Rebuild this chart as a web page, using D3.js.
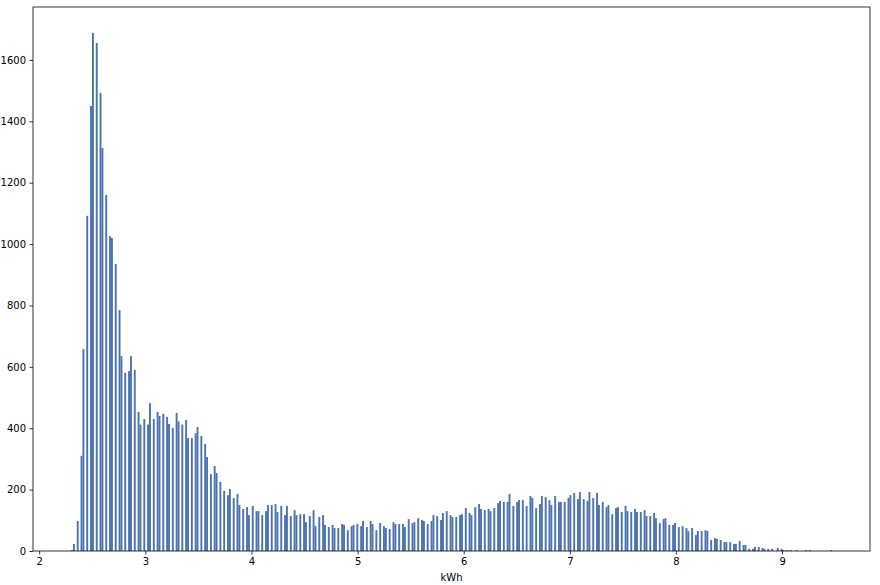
<!DOCTYPE html>
<html><head><meta charset="utf-8">
<script src="https://cdn.jsdelivr.net/npm/d3@7"></script>
<style>
body{margin:0;background:#fff}
svg{display:block}
text{font-family:"DejaVu Sans",sans-serif;font-size:10px;fill:#000}
</style>
</head><body>
<svg id="chart" width="880" height="585"></svg>
<script>
// Metered readings come in 0.03 kWh steps starting at 2.30 kWh
const firstReading = 2.30;
const readingStep = 0.03;
// Number of days at each reading
const counts = [
  3, 23, 98, 310, 658, 1092, 1450, 1688, 1655, 1492, 1313, 1160, 1026, 1020, 935, 785, 635, 580, 586, 635, 590,
  453, 412, 430, 412, 482, 430, 453, 440, 447, 437, 414, 401, 450, 422, 412, 427, 368, 368, 384, 404, 375, 349, 306,
  251, 277, 254, 225, 196, 182, 202, 173, 186, 150, 137, 143, 117, 147, 130, 130, 117, 130, 150, 150, 153, 127, 147,
  117, 147, 114, 133, 117, 120, 120, 94, 114, 133, 81, 111, 117, 85, 78, 85, 75, 75, 88, 85, 68, 81, 85, 88, 81, 98, 78, 98, 88, 68,
  91, 81, 75, 72, 94, 88, 88, 88, 78, 104, 91, 94, 107, 101, 98, 88, 98, 117, 114, 101,
  124, 130, 117, 111, 111, 117, 120, 140, 124, 117, 143, 153, 137, 133, 137, 130, 140, 156, 163, 160,
  160, 186, 147, 160, 166, 166, 147, 179, 173, 140, 153, 179, 176, 166,
  150, 179, 160, 160, 160, 173, 182, 189, 169, 192, 169, 163, 192, 173, 189, 150, 160, 143, 150, 120,
  140, 143, 127, 147, 130, 127, 137, 127, 127, 133, 114, 114, 124, 107, 91, 104, 107, 85, 85, 91,
  78, 81, 75, 65, 75, 52, 65, 65, 68, 65, 36, 42, 39,
  36, 29, 29, 29, 23, 23, 33, 20, 20, 7, 7, 13, 13, 10, 7, 7, 7,
  0, 10, 7, 3, 3, 3, 0, 3, 0, 0, 3, 3, 0, 0, 0, 0, 0, 0, 3
];
const binCount = 400;
const xTicks = [2, 3, 4, 5, 6, 7, 8, 9];
const yTicks = [0, 200, 400, 600, 800, 1000, 1200, 1400, 1600];
const xLabel = "kWh";
const barColor = "#4C72B0";

const readings = counts.map((c, i) => ({ kwh: firstReading + i * readingStep, step: i, count: c }));
const lo = readings[0].kwh;
const hi = readings[readings.length - 1].kwh;
const binW = (hi - lo) / binCount;
const bins = d3.range(binCount).map(i => ({ x0: lo + i * binW, x1: lo + (i + 1) * binW, n: 0 }));
readings.forEach(r => {
  let b = Math.floor((r.step * readingStep) / binW + 1e-9);
  if (b >= binCount) b = binCount - 1;
  bins[b].n += r.count;
});
const maxN = d3.max(bins, b => b.n);

const L = 33, R = 870, T = 7, B = 551;
const pad = 0.05 * (hi - lo);
const x = d3.scaleLinear().domain([lo - pad, hi + pad]).range([L, R]);
const y = d3.scaleLinear().domain([0, maxN * 1.05]).range([B, T]);

const svg = d3.select("#chart");

svg.append("g").selectAll("rect")
  .data(bins.filter(b => b.n > 0))
  .join("rect")
  .attr("x", d => x(d.x0))
  .attr("width", d => x(d.x1) - x(d.x0))
  .attr("y", d => y(d.n))
  .attr("height", d => y(0) - y(d.n))
  .attr("fill", barColor);

const xAxis = svg.append("g").attr("transform", `translate(0,${B})`)
  .call(d3.axisBottom(x).tickValues(xTicks).tickSize(3.5).tickPadding(3.5).tickFormat(d3.format("d")));
const yAxis = svg.append("g").attr("transform", `translate(${L},0)`)
  .call(d3.axisLeft(y).tickValues(yTicks).tickSize(3.5).tickPadding(3.5).tickFormat(d3.format("d")));
[xAxis, yAxis].forEach(g => {
  g.select(".domain").remove();
  g.selectAll(".tick line").attr("stroke", "#000").attr("stroke-width", 0.8);
  g.selectAll(".tick text").attr("fill", "#000").style("font-size", "10px").style("font-family", '"DejaVu Sans",sans-serif');
});

svg.append("rect")
  .attr("x", L).attr("y", T).attr("width", R - L).attr("height", B - T)
  .attr("fill", "none").attr("stroke", "#000").attr("stroke-width", 0.8);

svg.append("text")
  .attr("x", (L + R) / 2).attr("y", 580.5)
  .attr("text-anchor", "middle")
  .text(xLabel);
</script>
</body></html>
